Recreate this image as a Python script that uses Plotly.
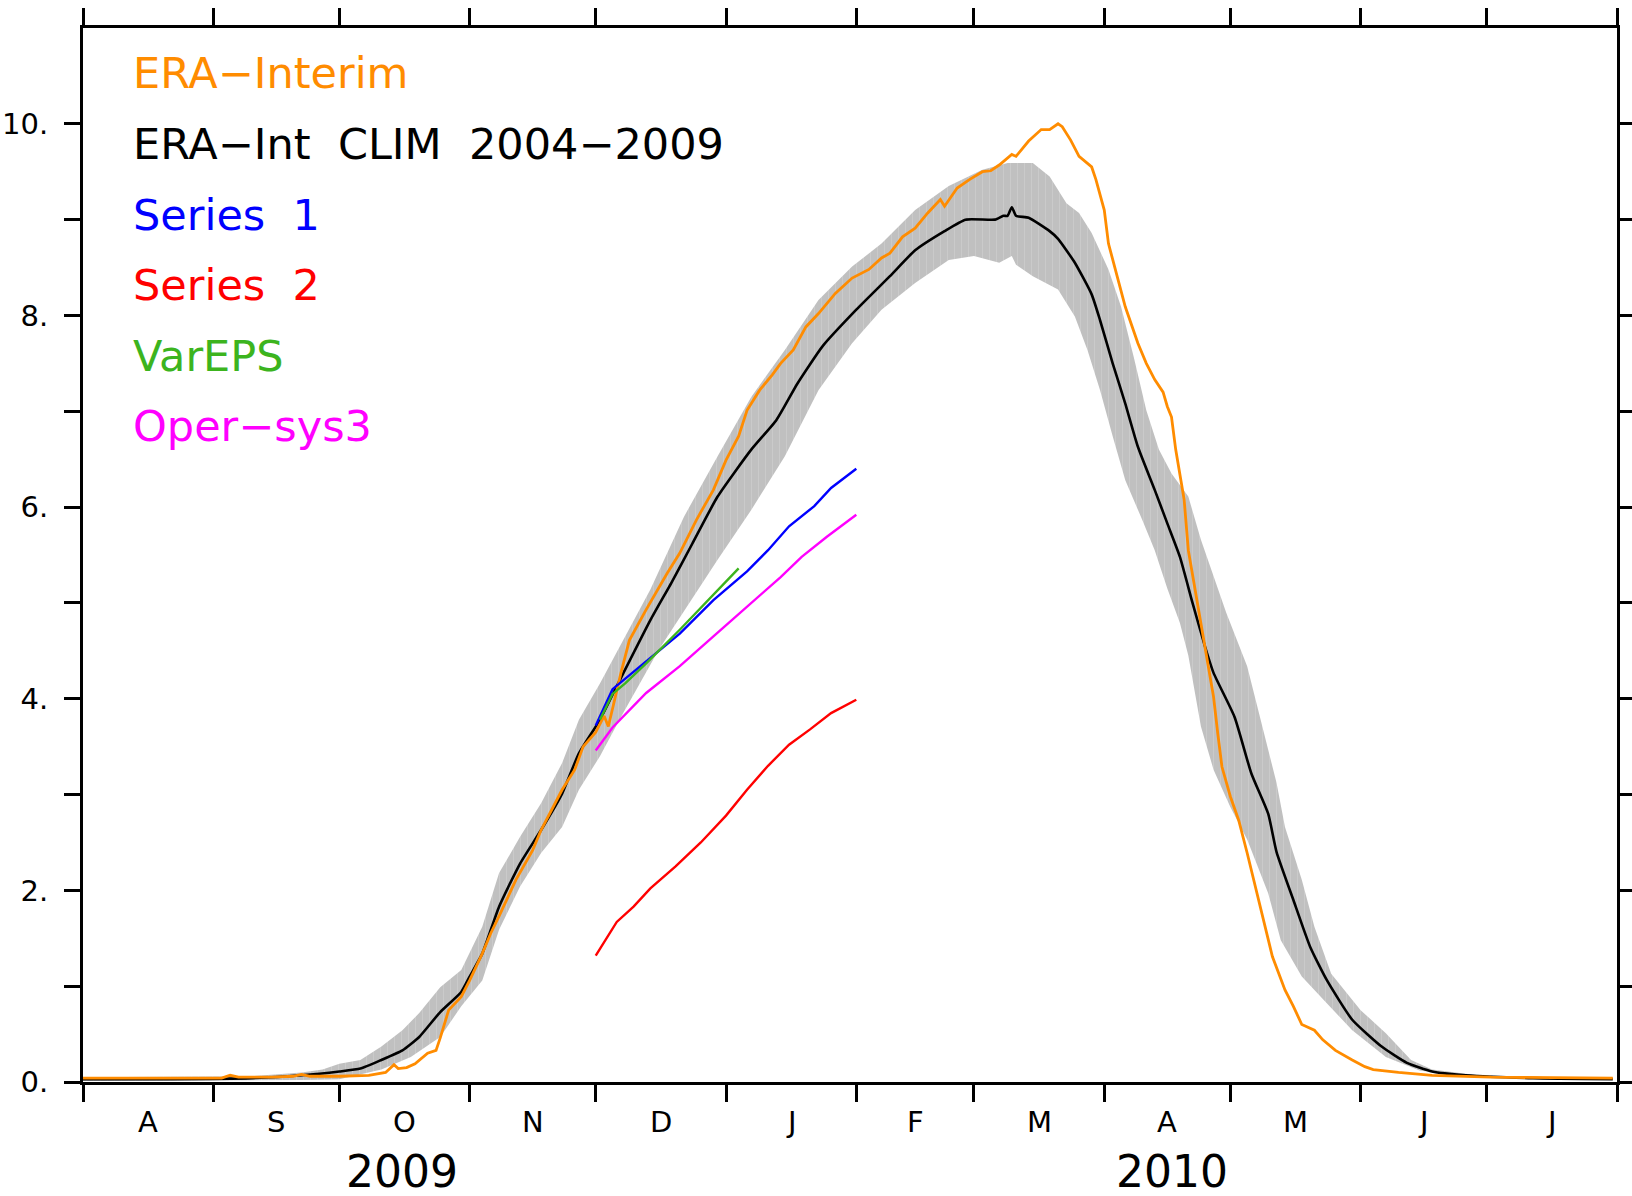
import plotly.graph_objects as go
import pandas as pd

# ---------------- data ----------------
CLIM_DATES = ["2009-08-01", "2009-08-21", "2009-09-10", "2009-09-22", "2009-10-01", "2009-10-06",
              "2009-10-11", "2009-10-16", "2009-10-20", "2009-10-25", "2009-10-30", "2009-11-01",
              "2009-11-04", "2009-11-08", "2009-11-13", "2009-11-18", "2009-11-23", "2009-11-27",
              "2009-12-02", "2009-12-06", "2009-12-14", "2009-12-19", "2009-12-24", "2009-12-30",
              "2010-01-07", "2010-01-13", "2010-01-18", "2010-01-24", "2010-02-01", "2010-02-09",
              "2010-02-15", "2010-02-22", "2010-02-27", "2010-03-06", "2010-03-08", "2010-03-09",
              "2010-03-10", "2010-03-11", "2010-03-14", "2010-03-19", "2010-03-21", "2010-03-25",
              "2010-03-29", "2010-03-31", "2010-04-03", "2010-04-06", "2010-04-09", "2010-04-13",
              "2010-04-16", "2010-04-19", "2010-04-22", "2010-04-25", "2010-04-27", "2010-05-02",
              "2010-05-06", "2010-05-10", "2010-05-12", "2010-05-16", "2010-05-20", "2010-05-24",
              "2010-05-30", "2010-06-06", "2010-06-12", "2010-06-18", "2010-06-26", "2010-07-12",
              "2010-07-31"]
CLIM_MEAN = [0.03, 0.03, 0.04, 0.07, 0.11, 0.14,
             0.23, 0.33, 0.47, 0.73, 0.94, 1.10,
             1.34, 1.83, 2.28, 2.63, 3.01, 3.43,
             3.78, 4.13, 4.82, 5.21, 5.62, 6.11,
             6.60, 6.91, 7.29, 7.68, 8.06, 8.41,
             8.68, 8.88, 9.00, 9.00, 9.04, 9.04,
             9.13, 9.04, 9.02, 8.88, 8.80, 8.55,
             8.22, 7.95, 7.50, 7.08, 6.63, 6.18,
             5.83, 5.48, 5.00, 4.54, 4.27, 3.81,
             3.22, 2.80, 2.40, 1.90, 1.41, 1.06,
             0.65, 0.37, 0.20, 0.11, 0.07, 0.04,
             0.03]

UPPER_DATES = ["2009-08-01", "2009-09-10", "2009-09-22", "2009-09-27", "2009-10-01", "2009-10-06",
               "2009-10-11", "2009-10-16", "2009-10-20", "2009-10-25", "2009-10-30", "2009-11-04",
               "2009-11-08", "2009-11-13", "2009-11-18", "2009-11-23", "2009-11-27", "2009-12-02",
               "2009-12-14", "2009-12-22", "2009-12-30", "2010-01-07", "2010-01-15", "2010-01-23",
               "2010-01-31", "2010-02-07", "2010-02-15", "2010-02-23", "2010-03-03", "2010-03-09",
               "2010-03-15", "2010-03-19", "2010-03-23", "2010-03-26", "2010-03-29", "2010-04-02",
               "2010-04-05", "2010-04-08", "2010-04-11", "2010-04-14", "2010-04-17", "2010-04-21",
               "2010-04-24", "2010-04-27", "2010-04-30", "2010-05-05", "2010-05-08", "2010-05-12",
               "2010-05-14", "2010-05-18", "2010-05-21", "2010-05-25", "2010-06-01", "2010-06-07",
               "2010-06-13", "2010-06-18", "2010-06-27", "2010-07-12", "2010-07-31"]
CLIM_UPPER = [0.05, 0.06, 0.10, 0.13, 0.19, 0.23,
              0.37, 0.54, 0.72, 0.99, 1.17, 1.62,
              2.18, 2.56, 2.91, 3.33, 3.78, 4.16,
              5.14, 5.90, 6.53, 7.15, 7.64, 8.16,
              8.51, 8.75, 9.10, 9.35, 9.52, 9.59,
              9.59, 9.45, 9.17, 9.07, 8.86, 8.48,
              8.09, 7.57, 7.01, 6.60, 6.35, 6.11,
              5.66, 5.27, 4.90, 4.34, 3.81, 3.12,
              2.66, 2.11, 1.62, 1.13, 0.75, 0.51,
              0.23, 0.13, 0.08, 0.05, 0.04]

LOWER_DATES = ["2009-08-01", "2009-09-22", "2009-10-01", "2009-10-11", "2009-10-18", "2009-10-25",
               "2009-10-30", "2009-11-04", "2009-11-08", "2009-11-13", "2009-11-18", "2009-11-23",
               "2009-11-27", "2009-12-02", "2009-12-07", "2009-12-16", "2009-12-30", "2010-01-07",
               "2010-01-15", "2010-01-23", "2010-01-31", "2010-02-07", "2010-02-15", "2010-02-23",
               "2010-03-01", "2010-03-07", "2010-03-10", "2010-03-11", "2010-03-15", "2010-03-21",
               "2010-03-25", "2010-03-28", "2010-03-31", "2010-04-03", "2010-04-06", "2010-04-10",
               "2010-04-13", "2010-04-16", "2010-04-19", "2010-04-21", "2010-04-24", "2010-04-27",
               "2010-05-01", "2010-05-05", "2010-05-10", "2010-05-13", "2010-05-18", "2010-05-24",
               "2010-05-30", "2010-06-07", "2010-06-15", "2010-06-27", "2010-07-31"]
CLIM_LOWER = [0.01, 0.02, 0.03, 0.13, 0.26, 0.47,
              0.79, 1.06, 1.59, 2.04, 2.39, 2.66,
              3.05, 3.40, 3.81, 4.51, 5.45, 5.97,
              6.53, 7.22, 7.71, 8.06, 8.34, 8.58,
              8.62, 8.55, 8.62, 8.53, 8.41, 8.27,
              7.99, 7.64, 7.22, 6.74, 6.28, 5.87,
              5.55, 5.15, 4.79, 4.45, 3.71, 3.26,
              2.87, 2.53, 1.97, 1.48, 1.10, 0.82,
              0.54, 0.26, 0.12, 0.05, 0.02]

ERA_DATES = ["2009-08-01", "2009-08-21", "2009-09-03", "2009-09-05", "2009-09-07", "2009-09-15",
             "2009-09-20", "2009-09-22", "2009-09-24", "2009-10-01", "2009-10-08", "2009-10-12",
             "2009-10-14", "2009-10-15", "2009-10-17", "2009-10-19", "2009-10-22", "2009-10-24",
             "2009-10-25", "2009-10-27", "2009-10-30", "2009-11-01", "2009-11-04", "2009-11-06",
             "2009-11-08", "2009-11-12", "2009-11-16", "2009-11-18", "2009-11-23", "2009-11-26",
             "2009-11-28", "2009-12-01", "2009-12-02", "2009-12-03", "2009-12-04", "2009-12-05",
             "2009-12-07", "2009-12-09", "2009-12-13", "2009-12-18", "2009-12-21", "2009-12-25",
             "2009-12-29", "2010-01-01", "2010-01-04", "2010-01-06", "2010-01-09", "2010-01-12",
             "2010-01-14", "2010-01-17", "2010-01-20", "2010-01-23", "2010-01-27", "2010-01-31",
             "2010-02-04", "2010-02-07", "2010-02-09", "2010-02-12", "2010-02-15", "2010-02-18",
             "2010-02-21", "2010-02-22", "2010-02-25", "2010-02-28", "2010-03-03", "2010-03-05",
             "2010-03-07", "2010-03-10", "2010-03-11", "2010-03-14", "2010-03-17", "2010-03-19",
             "2010-03-21", "2010-03-22", "2010-03-24", "2010-03-26", "2010-03-28", "2010-03-29",
             "2010-03-30", "2010-04-01", "2010-04-02", "2010-04-05", "2010-04-06", "2010-04-09",
             "2010-04-11", "2010-04-13", "2010-04-15", "2010-04-16", "2010-04-17", "2010-04-18",
             "2010-04-20", "2010-04-21", "2010-04-23", "2010-04-25", "2010-04-27", "2010-04-28",
             "2010-04-29", "2010-05-01", "2010-05-03", "2010-05-05", "2010-05-07", "2010-05-09",
             "2010-05-11", "2010-05-14", "2010-05-16", "2010-05-18", "2010-05-21", "2010-05-23",
             "2010-05-26", "2010-05-30", "2010-06-02", "2010-06-04", "2010-06-10", "2010-06-18",
             "2010-07-02", "2010-07-31"]
ERA_INTERIM = [0.04, 0.04, 0.04, 0.07, 0.05, 0.05,
               0.06, 0.08, 0.06, 0.06, 0.07, 0.10,
               0.18, 0.14, 0.15, 0.19, 0.30, 0.33,
               0.46, 0.75, 0.89, 1.06, 1.34, 1.55,
               1.73, 2.11, 2.42, 2.63, 3.05, 3.26,
               3.50, 3.65, 3.74, 3.82, 3.71, 3.90,
               4.27, 4.61, 4.93, 5.31, 5.52, 5.87,
               6.18, 6.49, 6.74, 7.01, 7.22, 7.38,
               7.50, 7.64, 7.88, 8.02, 8.23, 8.39,
               8.48, 8.60, 8.65, 8.82, 8.91, 9.07,
               9.21, 9.14, 9.33, 9.42, 9.50, 9.51,
               9.57, 9.68, 9.66, 9.82, 9.94, 9.94,
               10.0, 9.97, 9.83, 9.66, 9.59, 9.55,
               9.42, 9.10, 8.75, 8.27, 8.09, 7.71,
               7.50, 7.33, 7.20, 7.05, 6.94, 6.60,
               6.08, 5.55, 5.03, 4.50, 4.02, 3.64,
               3.29, 2.98, 2.73, 2.39, 2.04, 1.66,
               1.31, 0.96, 0.79, 0.60, 0.54, 0.44,
               0.33, 0.23, 0.16, 0.13, 0.10, 0.07,
               0.05, 0.04]

S1_DATES = ["2009-12-01", "2009-12-05", "2009-12-13", "2009-12-21", "2009-12-29", "2010-01-06",
            "2010-01-11", "2010-01-16", "2010-01-22", "2010-01-26", "2010-02-01"]
SERIES_1 = [3.72, 4.10, 4.39, 4.68, 5.03, 5.33, 5.55, 5.80, 6.01, 6.20, 6.40]

S2_DATES = ["2009-12-01", "2009-12-06", "2009-12-10", "2009-12-14", "2009-12-20", "2009-12-26",
            "2010-01-01", "2010-01-06", "2010-01-11", "2010-01-16", "2010-01-21", "2010-01-26",
            "2010-02-01"]
SERIES_2 = [1.32, 1.67, 1.83, 2.02, 2.25, 2.50, 2.78, 3.05, 3.30, 3.52, 3.68, 3.85, 3.99]

VAR_DATES = ["2009-12-02", "2009-12-05", "2009-12-08", "2009-12-13", "2009-12-21", "2009-12-29",
             "2010-01-04"]
VAREPS = [3.78, 4.05, 4.16, 4.37, 4.72, 5.08, 5.36]

OPER_DATES = ["2009-12-01", "2009-12-05", "2009-12-13", "2009-12-21", "2009-12-29", "2010-01-06",
              "2010-01-14", "2010-01-19", "2010-01-25", "2010-02-01"]
OPER_SYS3 = [3.46, 3.70, 4.06, 4.34, 4.65, 4.96, 5.27, 5.48, 5.69, 5.92]

Y_TICKS = list(range(0, 11))
Y_TICK_TEXT = ["0.", "", "2.", "", "4.", "", "6.", "", "8.", "", "10."]
MONTH_LABELS = ["A", "S", "O", "N", "D", "J", "F", "M", "A", "M", "J", "J"]
YEAR_LABELS = ["2009", "2010"]
YEAR_DATES = ["2009-10-16", "2010-04-17"]

LEGEND_NAMES = ["ERA\u2212Interim", "ERA\u2212Int  CLIM  2004\u22122009", "Series  1",
                "Series  2", "VarEPS", "Oper\u2212sys3"]

# ---------------- styles ----------------
ORANGE = "#FF8C00"
BLACK = "#000000"
BLUE = "#0000FF"
RED = "#FF0000"
GREEN = "#3CB41E"
MAGENTA = "#FF00FF"
GREY = "#C0C0C0"
GREY_STREAK = "#D4D4D4"
LEGEND_COLORS = [ORANGE, BLACK, BLUE, RED, GREEN, MAGENTA]
FONT = "DejaVu Sans"

fig = go.Figure()

# climatological spread band (closed polygon: upper then reversed lower)
fig.add_trace(go.Scatter(
    x=UPPER_DATES + LOWER_DATES[::-1],
    y=CLIM_UPPER + CLIM_LOWER[::-1],
    fill="toself", fillcolor=GREY, line=dict(width=0), mode="lines",
    fillpattern=dict(shape="|", bgcolor=GREY, fgcolor=GREY_STREAK, size=7, solidity=0.15),
    hoverinfo="skip", showlegend=False))

fig.add_trace(go.Scatter(x=CLIM_DATES, y=CLIM_MEAN, mode="lines",
                         line=dict(color=BLACK, width=2.6, shape="spline", smoothing=0.5),
                         showlegend=False))
fig.add_trace(go.Scatter(x=ERA_DATES, y=ERA_INTERIM, mode="lines",
                         line=dict(color=ORANGE, width=2.8), showlegend=False))
fig.add_trace(go.Scatter(x=S2_DATES, y=SERIES_2, mode="lines",
                         line=dict(color=RED, width=2.4), showlegend=False))
fig.add_trace(go.Scatter(x=S1_DATES, y=SERIES_1, mode="lines",
                         line=dict(color=BLUE, width=2.4), showlegend=False))
fig.add_trace(go.Scatter(x=OPER_DATES, y=OPER_SYS3, mode="lines",
                         line=dict(color=MAGENTA, width=2.4), showlegend=False))
fig.add_trace(go.Scatter(x=VAR_DATES, y=VAREPS, mode="lines",
                         line=dict(color=GREEN, width=2.4), showlegend=False))

month_starts = pd.date_range("2009-08-01", "2010-08-01", freq="MS")
month_mids = month_starts[:-1] + (month_starts[1:] - month_starts[:-1]) / 2

annotations = []
for lab, mid in zip(MONTH_LABELS, month_mids):
    annotations.append(dict(x=mid, y=-0.038, xref="x", yref="paper", text=lab,
                            showarrow=False, xanchor="center", yanchor="middle",
                            font=dict(family=FONT, size=29, color="black")))
for lab, d in zip(YEAR_LABELS, YEAR_DATES):
    annotations.append(dict(x=d, y=-0.085, xref="x", yref="paper", text=lab,
                            showarrow=False, xanchor="center", yanchor="middle",
                            font=dict(family=FONT, size=44, color="black")))
legend_y = [0.957, 0.890, 0.823, 0.756, 0.689, 0.622]
for name, col, yy in zip(LEGEND_NAMES, LEGEND_COLORS, legend_y):
    annotations.append(dict(x=0.031, y=yy, xref="paper", yref="paper", text=name,
                            showarrow=False, xanchor="left", yanchor="middle",
                            font=dict(family=FONT, size=43, color=col)))

fig.update_layout(
    width=1632, height=1196,
    margin=dict(l=83, r=15, t=28, b=114, autoexpand=False),
    paper_bgcolor="white", plot_bgcolor="white",
    showlegend=False,
    annotations=annotations,
    font=dict(family=FONT, color="black"),
)
fig.update_xaxes(
    type="date", range=["2009-08-01", "2010-08-01"],
    tickvals=list(month_starts), showticklabels=False,
    ticks="outside", ticklen=17, tickwidth=3, tickcolor="black",
    showline=True, linewidth=3, linecolor="black", mirror="allticks",
    showgrid=False, zeroline=False, automargin=False,
)
fig.update_yaxes(
    range=[0, 11], tickvals=Y_TICKS, ticktext=Y_TICK_TEXT,
    ticks="outside", ticklen=16, tickwidth=3, tickcolor="black",
    showline=True, linewidth=3, linecolor="black", mirror="allticks",
    showgrid=False, zeroline=False, ticklabelstandoff=10, automargin=False,
    tickfont=dict(family=FONT, size=29, color="black"),
)

fig.write_html("out.html")
